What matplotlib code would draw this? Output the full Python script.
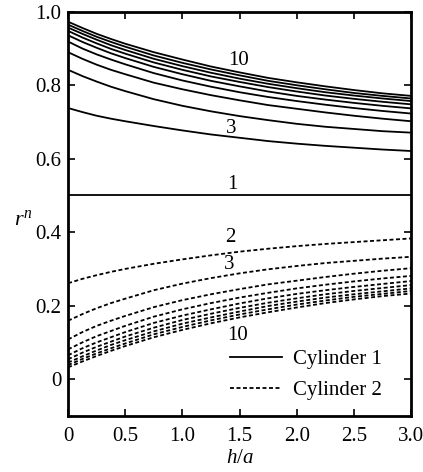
import matplotlib
matplotlib.use("Agg")
import matplotlib.pyplot as plt
from matplotlib.lines import Line2D

plt.rcParams['font.family'] = ['Liberation Serif', 'DejaVu Serif']
plt.rcParams['mathtext.fontset'] = 'custom'
plt.rcParams['mathtext.it'] = 'Liberation Serif:italic'
plt.rcParams['mathtext.rm'] = 'Liberation Serif'

# h/a sample positions
h_a = [0, 0.125, 0.25, 0.375, 0.5, 0.75, 1.0, 1.25, 1.5, 1.75, 2.0, 2.25, 2.5, 2.75, 3.0]

# Cylinder 1 (solid), n = 1..10
cyl1 = {
    1:  [0.500] * 15,
    2:  [0.738, 0.727, 0.717, 0.709, 0.702, 0.689, 0.677, 0.666, 0.657, 0.648, 0.641, 0.635, 0.630, 0.625, 0.621],
    3:  [0.842, 0.825, 0.810, 0.796, 0.784, 0.762, 0.744, 0.729, 0.716, 0.705, 0.695, 0.687, 0.681, 0.675, 0.671],
    4:  [0.890, 0.872, 0.856, 0.842, 0.830, 0.807, 0.789, 0.773, 0.759, 0.746, 0.736, 0.726, 0.717, 0.709, 0.702],
    5:  [0.919, 0.900, 0.884, 0.870, 0.857, 0.833, 0.813, 0.796, 0.781, 0.768, 0.757, 0.747, 0.738, 0.730, 0.723],
    6:  [0.936, 0.918, 0.902, 0.887, 0.874, 0.850, 0.830, 0.812, 0.797, 0.783, 0.771, 0.761, 0.752, 0.744, 0.737],
    7:  [0.948, 0.930, 0.914, 0.899, 0.886, 0.862, 0.842, 0.824, 0.809, 0.795, 0.783, 0.772, 0.763, 0.755, 0.748],
    8:  [0.957, 0.940, 0.924, 0.909, 0.896, 0.872, 0.852, 0.834, 0.818, 0.804, 0.792, 0.781, 0.772, 0.764, 0.757],
    9:  [0.965, 0.948, 0.932, 0.918, 0.905, 0.881, 0.861, 0.843, 0.827, 0.812, 0.800, 0.789, 0.779, 0.771, 0.764],
    10: [0.973, 0.956, 0.940, 0.926, 0.913, 0.890, 0.870, 0.851, 0.835, 0.820, 0.808, 0.797, 0.787, 0.778, 0.771],
}

# Cylinder 2 (dashed), n = 2..10
cyl2 = {
    2:  [0.261, 0.273, 0.283, 0.292, 0.300, 0.314, 0.326, 0.337, 0.347, 0.355, 0.362, 0.368, 0.373, 0.378, 0.383],
    3:  [0.159, 0.177, 0.193, 0.207, 0.219, 0.242, 0.260, 0.275, 0.288, 0.299, 0.308, 0.316, 0.322, 0.328, 0.333],
    4:  [0.108, 0.128, 0.145, 0.159, 0.172, 0.196, 0.215, 0.231, 0.245, 0.258, 0.268, 0.278, 0.287, 0.295, 0.302],
    5:  [0.081, 0.100, 0.117, 0.131, 0.145, 0.170, 0.190, 0.207, 0.222, 0.235, 0.247, 0.257, 0.266, 0.274, 0.281],
    6:  [0.065, 0.084, 0.100, 0.114, 0.128, 0.153, 0.173, 0.190, 0.206, 0.220, 0.232, 0.242, 0.251, 0.259, 0.267],
    7:  [0.054, 0.072, 0.088, 0.102, 0.116, 0.140, 0.161, 0.178, 0.194, 0.208, 0.220, 0.231, 0.240, 0.248, 0.256],
    8:  [0.045, 0.062, 0.078, 0.093, 0.106, 0.130, 0.151, 0.168, 0.184, 0.199, 0.211, 0.222, 0.231, 0.239, 0.247],
    9:  [0.038, 0.055, 0.070, 0.084, 0.097, 0.122, 0.142, 0.160, 0.176, 0.190, 0.203, 0.214, 0.224, 0.232, 0.240],
    10: [0.032, 0.048, 0.063, 0.077, 0.090, 0.114, 0.134, 0.152, 0.168, 0.182, 0.195, 0.207, 0.217, 0.226, 0.233],
}

x_ticks = [0, 0.5, 1.0, 1.5, 2.0, 2.5, 3.0]
x_tick_labels = ['0', '0.5', '1.0', '1.5', '2.0', '2.5', '3.0']
y_ticks = [0, 0.2, 0.4, 0.6, 0.8, 1.0]
y_tick_labels = ['0', '0.2', '0.4', '0.6', '0.8', '1.0']

curve_labels = [  # (text, x, y)
    ('10', 1.49, 0.868),
    ('3', 1.43, 0.681),
    ('1', 1.44, 0.531),
    ('2', 1.42, 0.386),
    ('3', 1.41, 0.313),
    ('10', 1.48, 0.120),
]

fig = plt.figure(figsize=(4.23, 4.72), dpi=100)
ax = fig.add_axes([0.161, 0.119, 0.811, 0.856])

dash = (0, (2.2, 1.4))
for n, vals in cyl1.items():
    ax.plot(h_a, vals, color='black', lw=1.3, solid_capstyle='butt')
for n, vals in cyl2.items():
    ax.plot(h_a, vals, color='black', lw=1.3, linestyle=dash)

for txt, x, y in curve_labels:
    ax.text(x, y, txt, fontsize=15, ha='center', va='center')

ax.set_xlim(0, 3.0)
ax.set_ylim(-0.1, 1.0)
ax.set_xticks(x_ticks)
ax.set_xticklabels(x_tick_labels)
ax.set_yticks(y_ticks)
ax.set_yticklabels(y_tick_labels)
ax.tick_params(direction='in', top=True, right=True, length=5, width=1.2,
               labelsize=15)
ax.tick_params(axis='x', pad=8)
ax.tick_params(axis='y', pad=5)
for s in ax.spines.values():
    s.set_linewidth(2.0)

ax.text(0.5, -0.106, r'$h/a$', fontsize=15, ha='center', va='center',
        transform=ax.transAxes)
ax.text(-0.13, 0.484, r'$r^n$', fontsize=16, ha='center', va='center',
        transform=ax.transAxes)

handles = [Line2D([], [], color='black', lw=1.3),
           Line2D([], [], color='black', lw=1.3, linestyle=dash)]
ax.legend(handles, ['Cylinder 1', 'Cylinder 2'], loc='lower right',
          frameon=False, fontsize=15, handlelength=2.5, handletextpad=0.5,
          labelspacing=0.55, bbox_to_anchor=(0.968, -0.008))

fig.savefig('out.png', dpi=100)
